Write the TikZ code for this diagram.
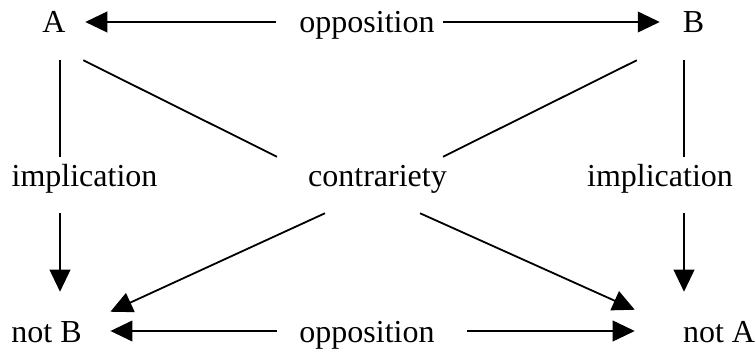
\documentclass[tikz,border=0pt]{standalone}
\usepackage{fontspec}
\setmainfont{Liberation Serif}
\usetikzlibrary{arrows.meta}

\tikzset{
  word/.style={inner sep=0pt, text height=16.5pt, text depth=0pt,
    font=\fontsize{24}{28}\selectfont},
  link/.style={line width=1.35pt},
  arr/.style={link, -{Triangle[length=16.5pt,width=15.5pt]}},
}

\begin{document}
\begin{tikzpicture}[x=0.75pt, y=0.75pt]
  \useasboundingbox (0,0) rectangle (755,349);
  % the four terms and the relations between them
  \node[word] (A) at (54,327) {A};
  \node[word] (opTop) at (367,327) {opposition};
  \node[word] (B) at (693.5,327) {B};
  \node[word] (implL) at (84.5,173) {implication};
  \node[word] (contr) at (377.5,173) {contrariety};
  \node[word] (implR) at (660,173) {implication};
  \node[word] (notB) at (46.5,18) {not B};
  \node[word] (opBot) at (367,18) {opposition};
  \node[word] (notA) at (719,18) {not A};
  \coordinate (colL) at (60,0);
  \coordinate (colR) at (684,0);

  % opposition
  \draw[arr, shorten <=17.6pt, shorten >=14.6pt] (opTop.west) -- (A.east);
  \draw[arr, shorten <=6.4pt, shorten >=17.1pt] (opTop.east) -- (B.west);
  \draw[arr, shorten <=16.9pt, shorten >=21.4pt] (opBot.west) -- (notB.east);
  \draw[arr, shorten <=24.4pt, shorten >=36pt] (opBot.east) -- (notA.west);

  % implication
  \draw[link, shorten <=20.25pt, shorten >=6pt] (A.south -| colL) -- (implL.north -| colL);
  \draw[link, shorten <=20.25pt, shorten >=6pt] (B.south -| colR) -- (implR.north -| colR);
  \draw[arr, shorten <=19.5pt, shorten >=21pt] (implL.south -| colL) -- (notB.north -| colL);
  \draw[arr, shorten <=19.5pt, shorten >=21pt] (implR.south -| colR) -- (notA.north -| colR);

  % contrariety
  \draw[link] ([shift={(17.5,-27)}]A.south east) -- ([shift={(-31,8)}]contr.north west);
  \draw[link] ([shift={(-45.8,-27)}]B.south west) -- ([shift={(-4,8)}]contr.north east);
  \draw[arr] ([shift={(17,-26)}]contr.south west) -- ([shift={(28.5,8)}]notB.north east);
  \draw[arr] ([shift={(-27,-26)}]contr.south east) -- ([shift={(-48,10)}]notA.north west);
\end{tikzpicture}
\end{document}
